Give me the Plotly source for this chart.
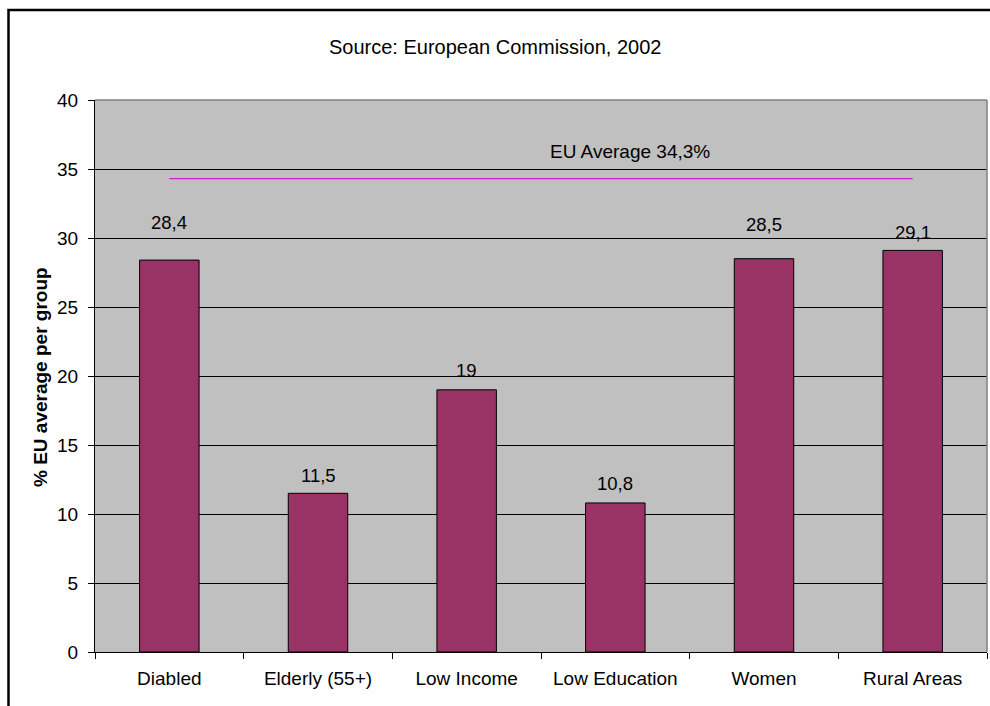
import plotly.graph_objects as go

# Share of each group (percent) compared with the EU average
categories = ["Diabled", "Elderly (55+)", "Low Income", "Low Education", "Women", "Rural Areas"]
values = [28.4, 11.5, 19.0, 10.8, 28.5, 29.1]
value_labels = ["28,4", "11,5", "19", "10,8", "28,5", "29,1"]
label_shift = [38, 18, 19, 19, 34, 18]  # pixels above each bar top
eu_average = 34.3
eu_average_label = "EU Average 34,3%"
y_ticks = [0, 5, 10, 15, 20, 25, 30, 35, 40]

FONT = "Liberation Sans, Arial, sans-serif"
W, H = 990, 706
L, R, T, B = 95, 3, 100, 54
plot_w = W - L - R
plot_h = H - T - B

fig = go.Figure()

fig.add_trace(go.Bar(
    x=categories, y=values,
    width=0.40,
    marker=dict(color="#993366", line=dict(color="black", width=1)),
    hoverinfo="x+y",
    showlegend=False,
))

# EU average reference line, spanning first to last category centre
fig.add_trace(go.Scatter(
    x=[categories[0], categories[-1]], y=[eu_average, eu_average],
    mode="lines", line=dict(color="#cc22cc", width=1.2),
    hoverinfo="skip", showlegend=False,
))

annotations = []
for cat, v, txt, s in zip(categories, values, value_labels, label_shift):
    annotations.append(dict(
        x=cat, y=v, text=txt, showarrow=False, yshift=s,
        font=dict(family=FONT, size=18.5, color="black"),
        xanchor="center", yanchor="middle",
    ))

annotations.append(dict(
    x=(630 - L) / plot_w, xref="paper", y=eu_average, yref="y",
    text=eu_average_label, showarrow=False, yshift=27,
    font=dict(family=FONT, size=19, color="black"),
    xanchor="center", yanchor="middle",
))

annotations.append(dict(
    x=(495 - L) / plot_w, xref="paper", y=(H - B - 47) / plot_h, yref="paper",
    text="Source: European Commission, 2002", showarrow=False,
    font=dict(family=FONT, size=20, color="black"),
    xanchor="center", yanchor="middle",
))

annotations.append(dict(
    x=(40 - L) / plot_w, xref="paper", y=(H - B - 377) / plot_h, yref="paper",
    text="<b>% EU average per group</b>", showarrow=False, textangle=-90,
    font=dict(family=FONT, size=19, color="black"),
    xanchor="center", yanchor="middle",
))

shapes = [
    # outer chart frame (left and top edges visible)
    dict(type="rect", xref="paper", yref="paper",
         x0=(8.5 - L) / plot_w, x1=(W + 20 - L) / plot_w,
         y0=(H - B - (H + 20)) / plot_h, y1=(H - B - 10) / plot_h,
         line=dict(color="black", width=2.5), fillcolor="rgba(0,0,0,0)", layer="above"),
    # grey border around the plot area on top and right
    dict(type="line", xref="paper", yref="paper", x0=0, x1=1, y0=1, y1=1,
         line=dict(color="#808080", width=1.5)),
    dict(type="line", xref="paper", yref="paper", x0=1, x1=1, y0=0, y1=1,
         line=dict(color="#808080", width=1.5)),
]

fig.update_layout(
    width=W, height=H,
    margin=dict(l=L, r=R, t=T, b=B, autoexpand=False),
    paper_bgcolor="white",
    plot_bgcolor="#c0c0c0",
    font=dict(family=FONT, size=19, color="black"),
    annotations=annotations,
    shapes=shapes,
    bargap=0.6,
    xaxis=dict(
        type="category",
        tickson="boundaries",
        ticks="outside", ticklen=6, tickcolor="black", tickwidth=1,
        ticklabelstandoff=9,
        showline=True, linecolor="black", linewidth=1,
        showgrid=False, zeroline=False,
        tickfont=dict(family=FONT, size=19, color="black"),
        range=[-0.5, len(categories) - 0.5],
        fixedrange=True,
    ),
    yaxis=dict(
        range=[0, 40],
        tickvals=y_ticks,
        ticks="outside", ticklen=6, tickcolor="black", tickwidth=1,
        ticklabelstandoff=6,
        showline=True, linecolor="black", linewidth=1,
        showgrid=True, gridcolor="black", gridwidth=1,
        zeroline=False,
        tickfont=dict(family=FONT, size=19, color="black"),
        fixedrange=True,
    ),
)

fig.write_html("out.html")
